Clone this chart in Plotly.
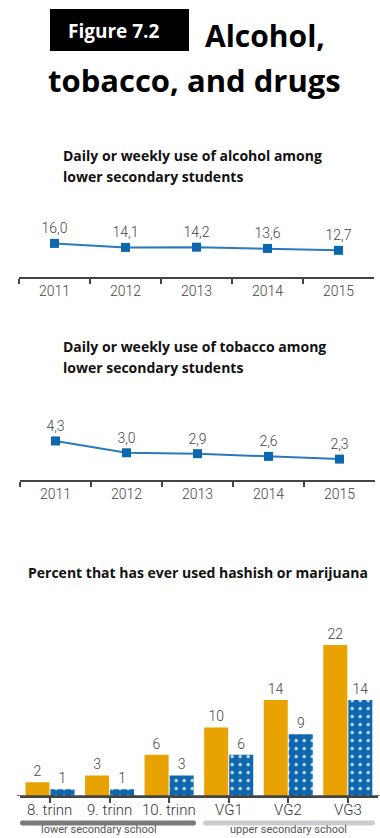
import plotly.graph_objects as go

# ---------------- data ----------------
years = ["2011", "2012", "2013", "2014", "2015"]
alcohol = [16.0, 14.1, 14.2, 13.6, 12.7]
tobacco = [4.3, 3.0, 2.9, 2.6, 2.3]

grades = ["8. trinn", "9. trinn", "10. trinn", "VG1", "VG2", "VG3"]
hash_ever_a = [2, 3, 6, 10, 14, 22]      # orange series
hash_ever_b = [1, 1, 3, 6, 9, 14]        # blue dotted series

group_labels = ["lower secondary school", "upper secondary school"]

title_tag = "Figure 7.2"
title_l1 = "Alcohol,"
title_l2 = "tobacco, and drugs"
sub1 = ["Daily or weekly use of alcohol among", "lower secondary students"]
sub2 = ["Daily or weekly use of tobacco among", "lower secondary students"]
sub3 = "Percent that has ever used hashish or marijuana"

# ---------------- styling ----------------
W, H = 380, 838
ORANGE = "#E8A202"
BLUE = "#0D67AE"
LINEBLUE = "#2B79BD"
AXIS = "#444444"
TXT = "#444444"
TITLE_FONT = "Open Sans"
NUM_FONT = "Roboto"


def py(p):
    return 1 - p / H


def px(p):
    return p / W


def fmt(v):
    return f"{v:.1f}".replace(".", ",")


numfont = dict(family=NUM_FONT, size=14, color=TXT, weight=300)

fig = go.Figure()

fig.add_trace(go.Scatter(
    x=years, y=alcohol, mode="lines+markers+text",
    text=[fmt(v) for v in alcohol], textposition="top center",
    textfont=numfont,
    line=dict(color=LINEBLUE, width=2),
    marker=dict(symbol="square", size=9, color=BLUE),
    xaxis="x", yaxis="y", cliponaxis=False, showlegend=False))

fig.add_trace(go.Scatter(
    x=years, y=tobacco, mode="lines+markers+text",
    text=[fmt(v) for v in tobacco], textposition="top center",
    textfont=numfont,
    line=dict(color=LINEBLUE, width=2),
    marker=dict(symbol="square", size=9, color=BLUE),
    xaxis="x2", yaxis="y2", cliponaxis=False, showlegend=False))

fig.add_trace(go.Bar(
    x=grades, y=hash_ever_a, text=[str(v) for v in hash_ever_a],
    textposition="outside", textfont=numfont,
    marker=dict(color=ORANGE, line=dict(width=0)),
    xaxis="x3", yaxis="y3", cliponaxis=False, showlegend=False))

fig.add_trace(go.Bar(
    x=grades, y=hash_ever_b, text=[str(v) for v in hash_ever_b],
    textposition="outside", textfont=numfont,
    marker=dict(color=BLUE, line=dict(width=0),
                pattern=dict(shape=".", fgcolor="white", bgcolor=BLUE,
                             size=8, solidity=0.12, fillmode="replace")),
    xaxis="x3", yaxis="y3", cliponaxis=False, showlegend=False))

axis_common = dict(showline=True, linecolor=AXIS, linewidth=1.5,
                   ticks="outside", ticklen=5, tickwidth=1.5, tickcolor=AXIS,
                   showgrid=False, zeroline=False, fixedrange=True)

fig.update_layout(
    width=W, height=H, margin=dict(l=0, r=0, t=0, b=0),
    paper_bgcolor="white", plot_bgcolor="white",
    barmode="group", bargap=0.16, bargroupgap=0.04,
    xaxis=dict(domain=[px(19), px(374)], anchor="y", tickson="boundaries",
               range=[-0.5, 4.5], tickfont=numfont, **axis_common),
    yaxis=dict(domain=[py(277), py(235)], range=[0, 20], visible=False, anchor="x"),
    xaxis2=dict(domain=[px(20), px(375)], anchor="y2", tickson="boundaries",
                range=[-0.5, 4.5], tickfont=numfont, **axis_common),
    yaxis2=dict(domain=[py(480), py(434.6)], range=[0, 5], visible=False, anchor="x2"),
    xaxis3=dict(domain=[px(20.2), px(377.6)], anchor="y3", range=[-0.5, 5.5],
                showticklabels=False, **axis_common),
    yaxis3=dict(domain=[py(796), py(624.5)], range=[0, 25], visible=False, anchor="x3"),
)

shapes = []
# title box
shapes.append(dict(type="rect", xref="paper", yref="paper",
                   x0=px(50), x1=px(189), y0=py(51), y1=py(9),
                   fillcolor="black", line=dict(width=0), layer="below"))
# extended bar baseline
shapes.append(dict(type="line", xref="paper", yref="y3", x0=px(17), x1=px(380),
                   y0=0, y1=0, line=dict(color=AXIS, width=1.5)))
# group bars under categories
for (x0, x1, col) in [(20, 196, "#7a7a7a"), (203, 375, "#cccccc")]:
    r = 2.5
    yc = 823
    shapes.append(dict(type="rect", xref="paper", yref="paper",
                       x0=px(x0 + r), x1=px(x1 - r), y0=py(yc + r), y1=py(yc - r),
                       fillcolor=col, line=dict(width=0)))
    for cx in (x0 + r, x1 - r):
        shapes.append(dict(type="circle", xref="paper", yref="paper",
                           x0=px(cx - r), x1=px(cx + r), y0=py(yc + r), y1=py(yc - r),
                           fillcolor=col, line=dict(width=0)))
fig.update_layout(shapes=shapes)

ann = []
ann.append(dict(x=px(114), y=py(31), xref="paper", yref="paper", text=f"<b>{title_tag}</b>",
                showarrow=False, xanchor="center", yanchor="middle",
                font=dict(family=TITLE_FONT, size=19, color="white")))
ann.append(dict(x=px(265), y=py(35), xref="paper", yref="paper", text=f"<b>{title_l1}</b>",
                showarrow=False, xanchor="center", yanchor="middle",
                font=dict(family=TITLE_FONT, size=30, color="black")))
ann.append(dict(x=px(194), y=py(80), xref="paper", yref="paper", text=f"<b>{title_l2}</b>",
                showarrow=False, xanchor="center", yanchor="middle",
                font=dict(family=TITLE_FONT, size=31, color="black")))
for lines, ys in [(sub1, (155, 176)), (sub2, (346, 367))]:
    for t, yy in zip(lines, ys):
        ann.append(dict(x=px(61), y=py(yy), xref="paper", yref="paper", text=f"<b>{t}</b>",
                        showarrow=False, xanchor="left", yanchor="middle",
                        font=dict(family=TITLE_FONT, size=14, color="#111111")))
ann.append(dict(x=px(198), y=py(572), xref="paper", yref="paper", text=f"<b>{sub3}</b>",
                showarrow=False, xanchor="center", yanchor="middle",
                font=dict(family=TITLE_FONT, size=14, color="#111111")))
# category labels under the bar axis
for g in grades:
    ann.append(dict(x=g, y=py(810), xref="x3", yref="paper", text=g,
                    showarrow=False, xanchor="center", yanchor="middle",
                    font=dict(family=NUM_FONT, size=15, color="#333333", weight=300)))
for t, cx in zip(group_labels, (99, 288)):
    ann.append(dict(x=px(cx), y=py(838), xref="paper", yref="paper", text=t,
                    showarrow=False, xanchor="center", yanchor="bottom",
                    font=dict(family=NUM_FONT, size=11, color="#555555")))
fig.update_layout(annotations=ann)

fig.write_html("out.html",
               config={"displayModeBar": False},
               post_script="document.body.style.margin='0px';"
                           "document.body.style.overflow='hidden';")
